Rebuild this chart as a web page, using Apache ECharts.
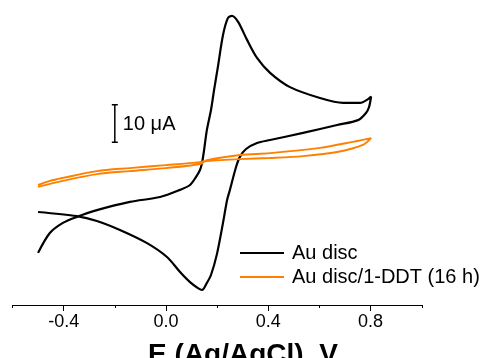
<!DOCTYPE html>
<html>
<head>
<meta charset="utf-8">
<script src="https://cdn.jsdelivr.net/npm/echarts@6/dist/echarts.min.js"></script>
<style>
html,body{margin:0;padding:0;background:#fff;}
#chart{width:487px;height:358px;}
</style>
</head>
<body>
<div id="chart"></div>
<script>
// Au disc (black) : potential (V) and current (uA)
const auDiscE = [-0.500,-0.454,-0.403,-0.348,-0.270,-0.141,-0.023,0.055,0.094,0.117,0.133,0.141,0.149,0.160,0.176,0.188,0.203,0.223,0.242,0.258,0.282,0.317,0.356,0.407,0.485,0.602,0.692,0.759,0.790,0.802,
  0.794,0.782,0.751,0.669,0.536,0.407,0.356,0.313,0.289,0.274,0.250,0.239,0.223,0.199,0.176,0.160,0.141,0.125,0.094,0.055,0.004,-0.074,-0.180,-0.270,-0.348,-0.500];
const auDiscI = [-21.1,-15.8,-13.1,-11.5,-9.7,-7.5,-6.2,-4.3,-3.0,-0.9,1.0,2.9,6.3,11.7,17.0,22.3,28.5,37.0,41.5,42.1,40.5,35.7,30.9,26.9,23.1,20.2,18.9,18.9,19.9,20.6,
  17.8,16.2,14.3,13.0,10.9,9.0,8.2,6.6,4.5,1.8,-4.3,-7.0,-13.1,-21.5,-27.0,-29.1,-31.0,-30.5,-28.9,-26.2,-22.2,-18.5,-15.0,-12.6,-11.3,-10.2];
// Au disc/1-DDT (16 h) (orange)
const ddtE = [-0.500,-0.454,-0.403,-0.270,-0.141,0.000,0.133,0.160,0.289,0.407,0.536,0.669,0.770,0.802,
  0.731,0.602,0.407,0.289,0.160,0.133,0.000,-0.141,-0.270,-0.403,-0.500];
const ddtI = [-3.0,-1.9,-1.1,0.7,1.5,2.3,3.1,3.4,3.9,4.2,4.7,5.8,7.7,9.5,
  8.5,6.9,5.5,5.0,3.6,2.6,1.5,0.7,-0.1,-1.9,-3.5];
// x-axis tick labels
const majorTicks = [-0.4, 0.0, 0.4, 0.8];
const tickLabels = ['-0.4', '0.0', '0.4', '0.8'];
// scale bar (10 uA)
const scaleBarE = -0.2;
const scaleBarI = [8.4, 18.4];
const scaleBarLabel = '10 \u03bcA';
const seriesNames = ['Au disc', 'Au disc/1-DDT (16 h)'];

const FONT = '"Liberation Sans", Arial, sans-serif';
const zip = (a, b) => a.map((v, i) => [v, b[i]]);

const chart = echarts.init(document.getElementById('chart'), null, {renderer: 'canvas'});
chart.setOption({
  backgroundColor: '#fff',
  animation: false,
  grid: {left: 12.5, right: 65.25, top: 5, bottom: 53},
  xAxis: [{
    type: 'value', min: -0.6, max: 1.0, interval: 0.2,
    axisLine: {show: true, onZero: false, lineStyle: {color: '#000', width: 1}},
    axisTick: {show: true, length: 3, lineStyle: {color: '#000'}},
    axisLabel: {
      margin: 8, color: '#000', fontSize: 18, fontFamily: FONT,
      formatter: v => { const i = majorTicks.findIndex(m => Math.abs(m - v) < 1e-6); return i >= 0 ? tickLabels[i] : ''; }
    },
    splitLine: {show: false}
  }, {
    type: 'value', min: -0.6, max: 1.0, position: 'bottom',
    axisLine: {show: false, onZero: false},
    axisTick: {show: true, length: 6, customValues: majorTicks, lineStyle: {color: '#000'}},
    axisLabel: {show: false},
    splitLine: {show: false}
  }],
  yAxis: {type: 'value', min: -35, max: 45, show: false},
  legend: {
    data: seriesNames,
    orient: 'vertical', left: 240, top: 243, padding: 0,
    itemWidth: 44, itemHeight: 14, itemGap: 4,
    textStyle: {fontSize: 20, fontFamily: FONT, color: '#000', padding: [0, 0, 0, 3], lineHeight: 20},
    icon: 'path://M0,6 L44,6 L44,8 L0,8 Z'
  },
  series: [{
    name: seriesNames[0], type: 'line', data: zip(auDiscE, auDiscI),
    showSymbol: false, symbol: 'none', smooth: 0.3,
    lineStyle: {color: '#000', width: 2.2}, itemStyle: {color: '#000'}
  }, {
    name: seriesNames[1], type: 'line', data: zip(ddtE, ddtI),
    showSymbol: false, symbol: 'none', smooth: 0.3,
    lineStyle: {color: '#FF8000', width: 2}, itemStyle: {color: '#FF8000'}
  }, {
    name: 'scalebar', type: 'custom', silent: true,
    data: [[scaleBarE, scaleBarI[0], scaleBarI[1]]],
    encode: {x: 0, y: [1, 2]},
    renderItem: (params, api) => {
      const p0 = api.coord([api.value(0), api.value(1)]);
      const p1 = api.coord([api.value(0), api.value(2)]);
      const st = {stroke: '#000', lineWidth: 1.5};
      return {type: 'group', children: [
        {type: 'line', shape: {x1: p0[0], y1: p0[1], x2: p1[0], y2: p1[1]}, style: st},
        {type: 'line', shape: {x1: p0[0] - 3, y1: p0[1], x2: p0[0] + 3, y2: p0[1]}, style: st},
        {type: 'line', shape: {x1: p1[0] - 3, y1: p1[1], x2: p1[0] + 3, y2: p1[1]}, style: st},
        {type: 'text', style: {text: scaleBarLabel, x: p0[0] + 8, y: (p0[1] + p1[1]) / 2 + 1,
          verticalAlign: 'middle', align: 'left', fill: '#000', font: '20px ' + FONT}}
      ]};
    }
  }],
  graphic: [{
    type: 'text', x: 243, y: 341,
    style: {text: 'E (Ag/AgCl), V', align: 'center', verticalAlign: 'top', fill: '#000',
      font: 'bold 28px ' + FONT}
  }]
});
</script>
</body>
</html>
